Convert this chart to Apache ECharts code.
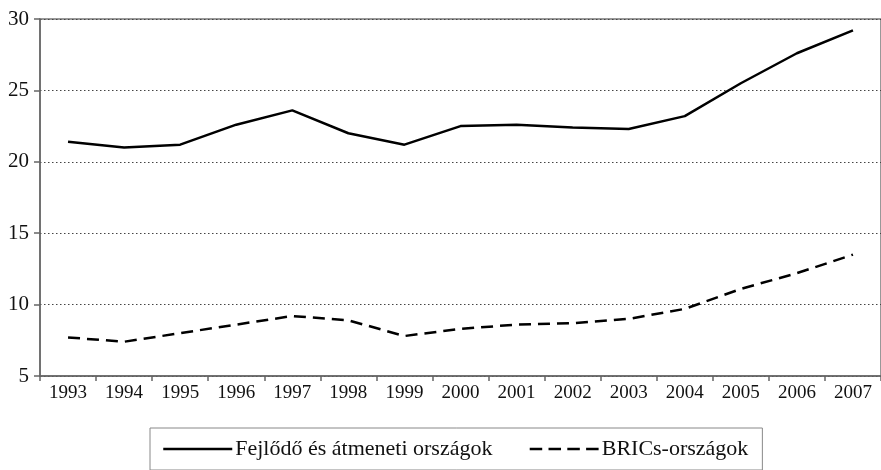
<!DOCTYPE html>
<html lang="hu">
<head>
<meta charset="UTF-8">
<title>Fejlődő és BRICs-országok</title>
<script src="https://cdn.jsdelivr.net/npm/echarts@6/dist/echarts.min.js"></script>
<style>
  html, body { margin: 0; padding: 0; background: #fff; }
  #main { width: 881px; height: 470px; }
</style>
</head>
<body>
<div id="main"></div>
<script>
// évek (x tengely)
var years = ['1993', '1994', '1995', '1996', '1997', '1998', '1999', '2000',
             '2001', '2002', '2003', '2004', '2005', '2006', '2007'];
// Fejlődő és átmeneti országok
var fejlodo = [21.4, 21.0, 21.2, 22.6, 23.6, 22.0, 21.2, 22.5, 22.6, 22.4, 22.3, 23.2, 25.5, 27.6, 29.2];
// BRICs-országok
var brics = [7.7, 7.4, 8.0, 8.6, 9.2, 8.9, 7.8, 8.3, 8.6, 8.7, 9.0, 9.7, 11.1, 12.2, 13.5];

var serif = "'Liberation Serif', 'Times New Roman', serif";
var myChart = echarts.init(document.getElementById('main'));

var option = {
    animation: false,
    textStyle: { fontFamily: serif },
    grid: {
        left: 40, right: -5, top: 19, bottom: 94,
        show: true,
        borderColor: '#777',
        borderWidth: 1.5
    },
    legend: {
        left: 150,
        top: 428,
        padding: [10, 14, 10, 12],
        itemWidth: 69,
        itemHeight: 20,
        itemGap: 36,
        borderColor: '#888',
        borderWidth: 1,
        itemStyle: { opacity: 0 },
        textStyle: { fontFamily: serif, fontSize: 22, color: '#111', padding: [0, 0, 0, -2] },
        data: [
            { name: 'Fejlődő és átmeneti országok', lineStyle: { width: 2.5 } },
            { name: 'BRICs-országok', lineStyle: { width: 2.5, type: [12.5, 6.3] } }
        ]
    },
    xAxis: {
        type: 'category',
        data: years,
        boundaryGap: true,
        axisLine: { lineStyle: { color: '#666', width: 1.5 } },
        axisTick: { show: true, length: 5, lineStyle: { color: '#666', width: 1.5 } },
        axisLabel: { fontFamily: serif, fontSize: 19, color: '#111', margin: 8 }
    },
    yAxis: {
        type: 'value',
        min: 5,
        max: 30,
        interval: 5,
        axisLine: { show: true, lineStyle: { color: '#666', width: 1.5 } },
        axisTick: { show: true, length: 6, lineStyle: { color: '#666', width: 1.5 } },
        axisLabel: { fontFamily: serif, fontSize: 21, color: '#111', margin: 11 },
        splitLine: { lineStyle: { color: '#444', width: 1, type: [1.5, 2.5] } }
    },
    series: [
        {
            name: 'Fejlődő és átmeneti országok',
            type: 'line',
            data: fejlodo,
            symbol: 'none',
            lineStyle: { color: '#000', width: 2.5 },
            itemStyle: { color: '#000' }
        },
        {
            name: 'BRICs-országok',
            type: 'line',
            data: brics,
            symbol: 'none',
            lineStyle: { color: '#000', width: 2.5, type: [12, 7] },
            itemStyle: { color: '#000' }
        }
    ]
};

myChart.setOption(option);
</script>
</body>
</html>
